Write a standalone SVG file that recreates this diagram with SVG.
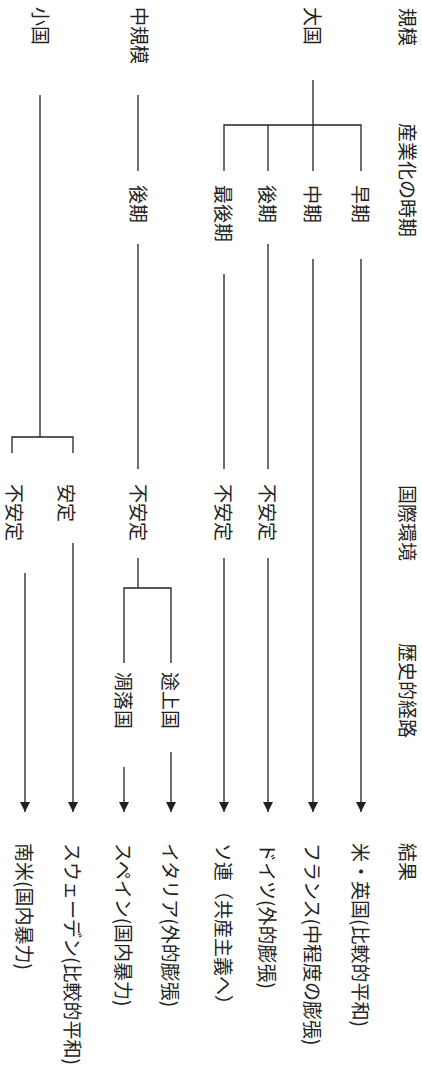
<svg xmlns="http://www.w3.org/2000/svg" width="422" height="1077" viewBox="0 0 422 1077">
<defs>
<style>
text{font-family:"Noto Sans CJK JP","Noto Sans CJK SC",sans-serif;font-size:19px;fill:#222;dominant-baseline:central}
.c line,.c path{stroke:#222;stroke-width:1.3;fill:none}
</style>
<marker id="ah" viewBox="0 0 10 10" refX="10" refY="5" markerWidth="10" markerHeight="10" markerUnits="userSpaceOnUse" orient="auto">
<path d="M0,0 L10,5 L0,10 Z" fill="#222"/>
</marker>
</defs>
<rect width="422" height="1077" fill="#fff"/>
<g id="headers">
<text transform="translate(408,8) rotate(90)">規模</text>
<text transform="translate(408,123) rotate(90)">産業化の時期</text>
<text transform="translate(408,485) rotate(90)">国際環境</text>
<text transform="translate(408,643) rotate(90)">歴史的経路</text>
<text transform="translate(408,843) rotate(90)">結果</text>
</g>
<g id="n-taikoku"><text transform="translate(313,7) rotate(90)">大国</text></g>
<g id="n-chukibo"><text transform="translate(140,7) rotate(90)">中規模</text></g>
<g id="n-shokoku"><text transform="translate(41,7) rotate(90)">小国</text></g>
<g id="n-souki"><text transform="translate(361,185) rotate(90)">早期</text></g>
<g id="n-chuki"><text transform="translate(313,185) rotate(90)">中期</text></g>
<g id="n-kouki1"><text transform="translate(268,185) rotate(90)">後期</text></g>
<g id="n-saikouki"><text transform="translate(224,185) rotate(90)">最後期</text></g>
<g id="n-kouki2"><text transform="translate(139,185) rotate(90)">後期</text></g>
<g id="n-fuan1"><text transform="translate(268,484) rotate(90)">不安定</text></g>
<g id="n-fuan2"><text transform="translate(224,484) rotate(90)">不安定</text></g>
<g id="n-fuan3"><text transform="translate(139,484) rotate(90)">不安定</text></g>
<g id="n-antei"><text transform="translate(67,484) rotate(90)">安定</text></g>
<g id="n-fuan4"><text transform="translate(15,484) rotate(90)">不安定</text></g>
<g id="n-tojou"><text transform="translate(171,672) rotate(90)">途上国</text></g>
<g id="n-chouraku"><text transform="translate(124,672) rotate(90)">凋落国</text></g>
<g id="r1"><text transform="translate(361,843) rotate(90)">米・英国(比較的平和)</text></g>
<g id="r2"><text transform="translate(313,843) rotate(90)">フランス(中程度の膨張)</text></g>
<g id="r3"><text transform="translate(268,843) rotate(90)">ドイツ(外的膨張)</text></g>
<g id="r4"><text transform="translate(224,843) rotate(90)">ソ連（共産主義へ）</text></g>
<g id="r5"><text transform="translate(171,843) rotate(90)">イタリア(外的膨張)</text></g>
<g id="r6"><text transform="translate(124,843) rotate(90)">スペイン(国内暴力)</text></g>
<g id="r7"><text transform="translate(73,843) rotate(90)">スウェーデン(比較的平和)</text></g>
<g id="r8"><text transform="translate(25,843) rotate(90)">南米(国内暴力)</text></g>
<g id="connectors" class="c">
<line x1="313" y1="80" x2="313" y2="125"/>
<path d="M224,171 V125 H361 V171"/>
<line x1="268" y1="125" x2="268" y2="171"/>
<line x1="313" y1="125" x2="313" y2="171"/>
<line x1="138" y1="95" x2="138" y2="171"/>
<line x1="40" y1="95" x2="40" y2="437"/>
<path d="M12,453 V437 H73 V453"/>
<line x1="361" y1="259" x2="361" y2="812" marker-end="url(#ah)"/>
<line x1="313" y1="259" x2="313" y2="812" marker-end="url(#ah)"/>
<line x1="268" y1="244" x2="268" y2="469"/>
<line x1="224" y1="274" x2="224" y2="469"/>
<line x1="138" y1="244" x2="138" y2="469"/>
<line x1="268" y1="558" x2="268" y2="812" marker-end="url(#ah)"/>
<line x1="224" y1="558" x2="224" y2="812" marker-end="url(#ah)"/>
<line x1="138" y1="558" x2="138" y2="588"/>
<path d="M124,663 V588 H171 V663"/>
<line x1="171" y1="752" x2="171" y2="812" marker-end="url(#ah)"/>
<line x1="124" y1="767" x2="124" y2="812" marker-end="url(#ah)"/>
<line x1="73" y1="543" x2="73" y2="812" marker-end="url(#ah)"/>
<line x1="25" y1="573" x2="25" y2="812" marker-end="url(#ah)"/>
</g>
</svg>
